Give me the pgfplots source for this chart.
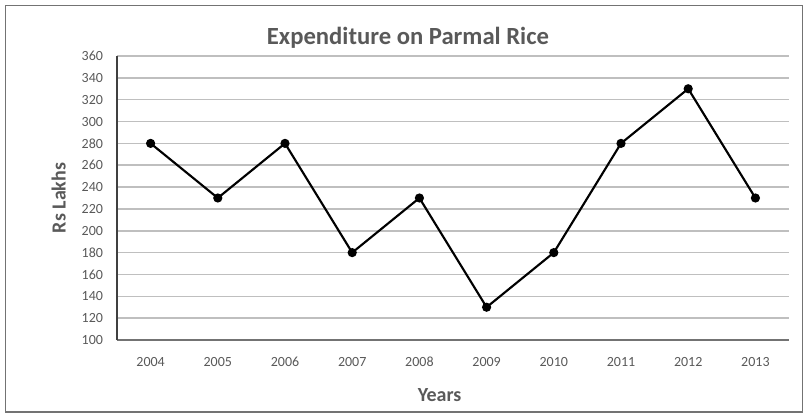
\documentclass[border=0pt]{standalone}
\usepackage{pgfplots}
\pgfplotsset{compat=1.18}
\usepackage{fontspec}
\setmainfont{Carlito}
\definecolor{txt}{HTML}{595959}
\definecolor{grid}{HTML}{BFBFBF}
\begin{document}
\begin{tikzpicture}
\path[use as bounding box] (0pt,0pt) rectangle (604.5pt,310.5pt);
\draw[color=black!55, line width=1.2pt] (4pt,1.5pt) rectangle (602pt,306.5pt);
\begin{axis}[
  at={(87.75pt,55.5pt)}, anchor=south west,
  width=504pt, height=213pt, scale only axis,
  xmin=0.5, xmax=10.5, ymin=100, ymax=360,
  xtick={1,...,10},
  xticklabels={2004,2005,2006,2007,2008,2009,2010,2011,2012,2013},
  ytick={100,120,...,360},
  ymajorgrids, major grid style={color=grid, line width=1.1pt},
  axis x line*=bottom, axis y line*=left,
  x axis line style={color=black!55, line width=1.3pt, -},
  y axis line style={color=black!75, line width=1.1pt, -},
  major tick length=0pt,
  tick label style={color=txt, font=\fontsize{10.5}{12}\selectfont},
  /pgf/number format/assume math mode=true,
  xticklabel style={yshift=-9pt, text height=7pt, text depth=0pt},
  yticklabel style={xshift=-7pt},
  title={\textbf{Expenditure on Parmal Rice}},
  title style={color=txt, font=\fontsize{18.5}{20}\selectfont, at={(0.433,1)}, anchor=south, yshift=-4pt},
  xlabel={\textbf{Years}},
  ylabel={\textbf{Rs Lakhs}},
  label style={color=txt, font=\fontsize{15}{17}\selectfont},
  xlabel style={at={(0.48,0)}, anchor=north, yshift=-33pt},
  ylabel style={yshift=5pt},
]
\addplot[color=black, line width=1.6pt, mark=*, mark size=2.6pt] coordinates {
(1,280) (2,230) (3,280) (4,180) (5,230) (6,130) (7,180) (8,280) (9,330) (10,230)};
\end{axis}
\end{tikzpicture}
\end{document}
